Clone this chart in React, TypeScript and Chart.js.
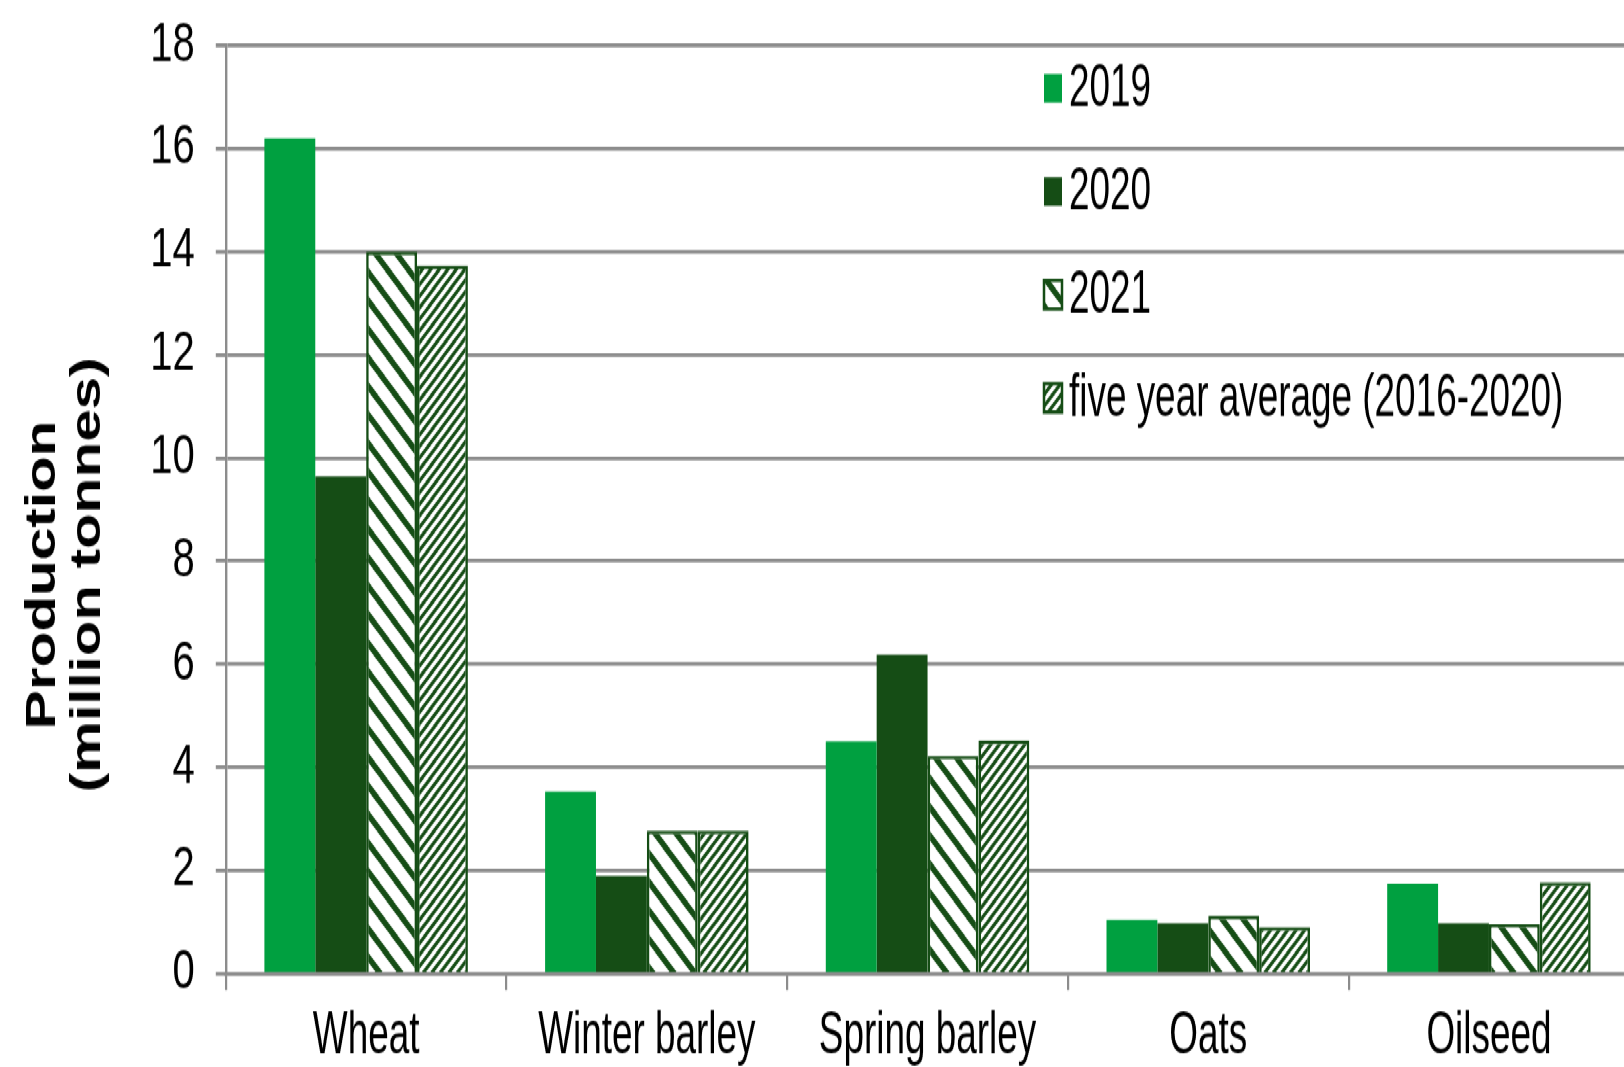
import React, { useEffect, useRef } from "react";
import { Chart, registerables } from "chart.js";

Chart.register(...registerables);

const categories = ["Wheat", "Winter barley", "Spring barley", "Oats", "Oilseed"];
const seriesLabels = ["2019", "2020", "2021", "five year average (2016-2020)"];
const values2019 = [16.2, 3.53, 4.5, 1.04, 1.75];
const values2020 = [9.64, 1.89, 6.18, 0.98, 0.98];
const values2021 = [14.0, 2.77, 4.22, 1.12, 0.96];
const valuesAvg = [13.73, 2.77, 4.52, 0.9, 1.77];
const yTitleLines = ["Production", "(million tonnes)"];
const yMin = 0;
const yMax = 18;
const yStep = 2;

const W = 1640;
const H = 785;
const STRETCH = 1067 / H;
const NARROW_SCALE = 0.82;

const LIGHT = "#00A040";
const DARK = "#154D15";
const GRID = "#8c8c8c";
const SANS = '"Liberation Sans", Arial, sans-serif';

function makeStripes(tile: number, period: number, lineW: number, dir: "back" | "fwd") {
  const c = document.createElement("canvas");
  c.width = tile;
  c.height = tile;
  const g = c.getContext("2d")!;
  g.fillStyle = "#ffffff";
  g.fillRect(0, 0, tile, tile);
  g.strokeStyle = DARK;
  g.lineWidth = lineW;
  g.beginPath();
  for (let k = -2 * tile; k <= 2 * tile; k += period) {
    if (dir === "back") {
      g.moveTo(k - tile, -tile);
      g.lineTo(k + 2 * tile, 2 * tile);
    } else {
      g.moveTo(k - tile, 2 * tile);
      g.lineTo(k + 2 * tile, -tile);
    }
  }
  g.stroke();
  return g.createPattern(c, "repeat")!;
}

function narrowText(ctx: CanvasRenderingContext2D, text: string, x: number, y: number, align: CanvasTextAlign) {
  ctx.save();
  ctx.translate(x, y);
  ctx.scale(NARROW_SCALE, 1);
  ctx.textAlign = align;
  ctx.textBaseline = "middle";
  ctx.fillText(text, 0, 0);
  ctx.restore();
}

export default function App() {
  const ref = useRef<HTMLCanvasElement | null>(null);

  useEffect(() => {
    if (!ref.current) return;
    const p2021 = makeStripes(21, 21, 5, "back");
    const pAvg = makeStripes(17, 8.5, 3, "fwd");
    const fills: any[] = [LIGHT, DARK, p2021, pAvg];
    const hatched = [false, false, true, true];

    const overlay = {
      id: "overlay",
      afterDraw(chart: any) {
        const ctx = chart.ctx as CanvasRenderingContext2D;
        // x category labels (narrow)
        ctx.save();
        ctx.fillStyle = "#000";
        ctx.font = `45px ${SANS}`;
        const xs = chart.scales.x;
        categories.forEach((lab, i) => {
          narrowText(ctx, lab, xs.getPixelForTick(i), 763, "center");
        });
        ctx.restore();
        // legend
        ctx.save();
        seriesLabels.forEach((lab, i) => {
          const cy = 65 + i * 75.9;
          const bx = 1044;
          const bw = 18;
          const bh = 21;
          ctx.fillStyle = fills[i];
          ctx.fillRect(bx, cy - bh / 2, bw, bh);
          if (hatched[i]) {
            ctx.strokeStyle = DARK;
            ctx.lineWidth = 2.5;
            ctx.strokeRect(bx, cy - bh / 2, bw, bh);
          }
          ctx.fillStyle = "#000";
          ctx.font = `45px ${SANS}`;
          narrowText(ctx, lab, 1069, cy + 1, "left");
        });
        ctx.restore();
        // y title
        ctx.save();
        ctx.translate(65.75, 423);
        ctx.rotate(-Math.PI / 2);
        ctx.textAlign = "center";
        ctx.textBaseline = "middle";
        ctx.fillStyle = "#000";
        ctx.font = `bold 43px ${SANS}`;
        ctx.fillText(yTitleLines[0], 0, -22.25);
        ctx.fillText(yTitleLines[1], 0, 22.25);
        ctx.restore();
      },
    };

    const chart = new Chart(ref.current, {
      type: "bar",
      data: {
        labels: categories,
        datasets: [
          { label: seriesLabels[0], data: values2019, backgroundColor: LIGHT, borderWidth: 0 },
          { label: seriesLabels[1], data: values2020, backgroundColor: DARK, borderWidth: 0 },
          { label: seriesLabels[2], data: values2021, backgroundColor: p2021, borderColor: DARK, borderWidth: 2.6 },
          { label: seriesLabels[3], data: valuesAvg, backgroundColor: pAvg, borderColor: DARK, borderWidth: 2.6 },
        ],
      },
      options: {
        animation: false,
        responsive: false,
        maintainAspectRatio: false,
        layout: { padding: { top: 33.5, right: W - 1629.3, left: 0, bottom: 0 } },
        datasets: { bar: { categoryPercentage: 0.725, barPercentage: 1 } } as any,
        plugins: { legend: { display: false }, tooltip: { enabled: false } },
        scales: {
          x: {
            grid: { display: true, drawOnChartArea: false, drawTicks: true, tickLength: 12, color: GRID, lineWidth: 2.2, offset: true },
            border: { display: true, color: GRID, width: 2.8 },
            ticks: { color: "rgba(0,0,0,0)", font: { family: SANS, size: 20, lineHeight: 0.5 }, padding: 0, maxRotation: 0, autoSkip: false },
            afterFit: (s: any) => {
              s.height = H - 716.3;
            },
          },
          y: {
            min: yMin,
            max: yMax,
            ticks: { stepSize: yStep, color: "#000", font: { family: SANS, size: 40, lineHeight: 0.5 }, padding: 21 },
            grid: { color: GRID, lineWidth: 2.8, tickLength: 10, drawTicks: true },
            border: { display: true, color: GRID, width: 2.4 },
            afterFit: (s: any) => {
              s.width = 225.8;
            },
          },
        },
      },
      plugins: [overlay],
    });
    return () => chart.destroy();
  }, []);

  return (
    <div
      style={{
        position: "fixed",
        left: 0,
        top: 0,
        width: W,
        height: H,
        transform: `scaleY(${STRETCH})`,
        transformOrigin: "0 0",
        background: "#fff",
      }}
    >
      <canvas ref={ref} width={W} height={H} />
    </div>
  );
}
